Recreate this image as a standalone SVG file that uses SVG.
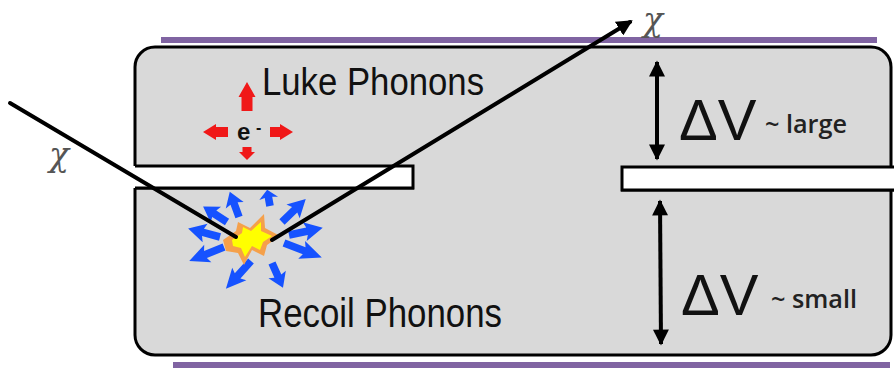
<svg xmlns="http://www.w3.org/2000/svg" xmlns:xlink="http://www.w3.org/1999/xlink" width="894" height="375" viewBox="0 0 894 375">
  <style>
    .track { stroke: #000; stroke-width: 4; fill: none; stroke-linecap: round; }
    .label { font-family: "Liberation Sans", Arial, sans-serif; fill: #111; }
    .dv { font-family: "Liberation Sans", Arial, sans-serif; font-size: 58px; fill: #111; }
    .note { font-family: "Open Sans", "Liberation Sans", sans-serif; font-weight: 600; font-size: 25px; fill: #222; }
    .chi { font-family: "DejaVu Serif", "Liberation Serif", serif; font-style: italic; font-size: 33px; fill: #555; }
    .red { fill: #f01818; }
    .blue { fill: #1652ff; }
    .gap { fill: #fff; }
    .gap-edge { fill: none; stroke: #000; stroke-width: 3; }
  </style>
  <defs>
    <!-- blue phonon arrow, tail at origin, pointing along +x, 30 long -->
    <path id="phonon" d="M0,-3.8 L16,-3.8 L14,-9.5 L30,0 L14,9.5 L16,3.8 L0,3.8 Z"/>
    <marker id="head" viewBox="0 0 10 10" refX="8" refY="5" markerWidth="4" markerHeight="4" orient="auto" markerUnits="strokeWidth">
      <path d="M0,0 L10,5 L0,10 Z" fill="#000"/>
    </marker>
    <marker id="vhead" viewBox="0 0 10 10" refX="9" refY="5" markerWidth="4.5" markerHeight="4" orient="auto-start-reverse" markerUnits="strokeWidth">
      <path d="M0,0 L10,5 L0,10 Z" fill="#000"/>
    </marker>
  </defs>

  <!-- electrode films -->
  <rect x="161" y="37" width="716" height="6" fill="#8064a2"/>
  <rect x="173" y="362" width="717" height="6" fill="#8064a2"/>

  <!-- detector crystal -->
  <g id="crystal">
    <rect x="135" y="47" width="756" height="308" rx="20" ry="20" fill="#d9d9d9" stroke="#000" stroke-width="3"/>
  </g>

  <!-- left slot -->
  <g id="slot-left">
    <rect class="gap" x="128" y="166" width="285" height="22"/>
    <path class="gap-edge" d="M135,166 H413 V188 H135"/>
    <path d="M135,188.5 H414" stroke="#000" stroke-width="2"/>
  </g>

  <!-- right slot -->
  <g id="slot-right">
    <rect class="gap" x="622" y="167" width="280" height="23"/>
    <path class="gap-edge" d="M900,167 H622 V190 H900"/>
    <path d="M621,190.5 H900" stroke="#000" stroke-width="2"/>
  </g>

  <!-- Luke phonons around the drifting electron -->
  <g id="luke">
    <path class="red" d="M247,82 L255.5,97 L252.5,97 L252.5,111 L241.5,111 L241.5,97 L238.5,97 Z"/>
    <path class="red" d="M203,132 L216,124 L216,127 L228,127 L228,137 L216,137 L216,140 Z"/>
    <path class="red" d="M293,132 L280,124 L280,127 L270,127 L270,137 L280,137 L280,140 Z"/>
    <path class="red" d="M247,160 L255,152 L251.5,152 L251.5,147 L242.5,147 L242.5,152 L239,152 Z"/>
    <text class="label" x="237" y="140" font-size="24" font-weight="bold">e</text>
    <text class="label" x="256" y="133" font-size="16" font-weight="bold">-</text>
    <text class="label" x="262" y="95" font-size="39" textLength="222" lengthAdjust="spacingAndGlyphs">Luke Phonons</text>
  </g>

  <!-- recoil phonons around the interaction point -->
  <g id="recoil">
    <use xlink:href="#phonon" class="blue" transform="translate(239,217) rotate(-110) scale(0.9,1)"/>
    <use xlink:href="#phonon" class="blue" transform="translate(227,222) rotate(-147) scale(0.95,1)"/>
    <use xlink:href="#phonon" class="blue" transform="translate(220,237) rotate(-165) scale(1.1,1)"/>
    <use xlink:href="#phonon" class="blue" transform="translate(224,247) rotate(158) scale(1.25,1)"/>
    <use xlink:href="#phonon" class="blue" transform="translate(251,261) rotate(132) scale(1.25,1)"/>
    <use xlink:href="#phonon" class="blue" transform="translate(272,263) rotate(66) scale(0.9,1)"/>
    <use xlink:href="#phonon" class="blue" transform="translate(284,243) rotate(21) scale(1.35,1)"/>
    <use xlink:href="#phonon" class="blue" transform="translate(289,235) rotate(-12) scale(1.15,1)"/>
    <use xlink:href="#phonon" class="blue" transform="translate(282,222) rotate(-44) scale(1.1,1)"/>
    <use xlink:href="#phonon" class="blue" transform="translate(270,206) rotate(-100) scale(0.55,1)"/>
    <!-- recoil flash -->
    <path fill="#f5a04a" d="M223,240 L236,231 L238,222 L250,228 L264,214 L265,228 L280,236 L267,245 L264,256 L252,250 L244,265 L238,253 L226,251 Z"/>
    <path fill="#ffff00" d="M232,240 L242,233 L243,227 L251,231 L261,222 L261,231 L272,236 L263,242 L260,250 L252,246 L245,257 L241,248 L233,246 Z"/>
    <text class="label" x="258" y="327" font-size="40" textLength="244" lengthAdjust="spacingAndGlyphs">Recoil Phonons</text>
  </g>

  <!-- particle track in and out -->
  <g id="tracks">
    <path class="track" d="M10,103 L236,237"/>
    <path class="track" d="M272,240 L630,22" marker-end="url(#head)"/>
  </g>
  <text class="chi" x="49" y="166">χ</text>
  <text class="chi" x="643" y="31">χ</text>

  <!-- voltage spans -->
  <g id="span-large">
    <path d="M657,62 V159" stroke="#000" stroke-width="4" marker-start="url(#vhead)" marker-end="url(#vhead)"/>
    <text class="dv" x="679" y="140">ΔV</text>
    <text class="note" x="765" y="133" textLength="82" lengthAdjust="spacingAndGlyphs">~ large</text>
  </g>
  <g id="span-small">
    <path d="M660,201 L661,344" stroke="#000" stroke-width="4" marker-start="url(#vhead)" marker-end="url(#vhead)"/>
    <text class="dv" x="681" y="315">ΔV</text>
    <text class="note" x="771" y="308" textLength="86" lengthAdjust="spacingAndGlyphs">~ small</text>
  </g>
</svg>
